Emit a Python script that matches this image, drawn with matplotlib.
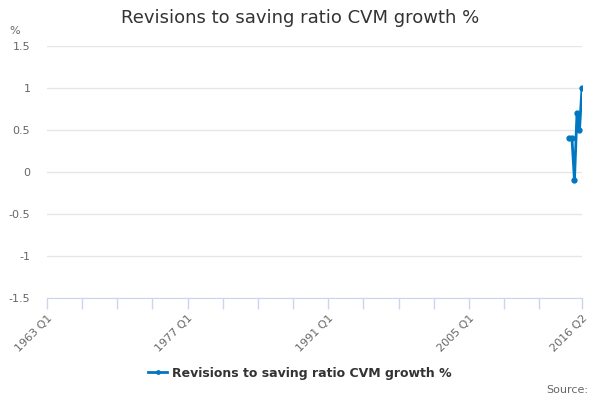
import matplotlib
matplotlib.use('Agg')
import matplotlib.pyplot as plt
import numpy as np

# quarterly categories 1963 Q1 .. 2016 Q2
quarters = ['%d Q%d' % (y, q) for y in range(1963, 2017) for q in range(1, 5)]
quarters = quarters[:quarters.index('2016 Q2') + 1]

data_quarters = ['2015 Q1', '2015 Q2', '2015 Q3', '2015 Q4', '2016 Q1', '2016 Q2']
data_values = [0.4, 0.4, -0.1, 0.7, 0.5, 1.0]

label_quarters = ['1963 Q1', '1977 Q1', '1991 Q1', '2005 Q1', '2016 Q2']
y_ticks = [-1.5, -1, -0.5, 0, 0.5, 1, 1.5]

line_color = '#0077c0'
text_grey = '#666666'

fig = plt.figure(figsize=(6, 4), dpi=100)
ax = fig.add_axes([47 / 600, 1 - 298 / 400, (582 - 47) / 600, (298 - 46) / 400])

xs = [quarters.index(q) for q in data_quarters]
ax.plot(xs, data_values, color=line_color, lw=2, marker='o', ms=3.5,
        label='Revisions to saving ratio CVM growth %')

ax.set_xlim(0, len(quarters) - 1)
ax.set_ylim(-1.5, 1.5)
ax.set_yticks(y_ticks)
ax.set_yticklabels(['-1.5', '-1', '-0.5', '0', '0.5', '1', '1.5'])
ax.yaxis.grid(True, color='#e6e6e6', lw=1)
ax.set_axisbelow(True)

tick_pos = list(range(0, len(quarters) - 14, 14)) + [len(quarters) - 1]
ax.set_xticks(tick_pos)
ax.set_xticklabels([q if q in label_quarters else '' for q in
                    [quarters[i] for i in tick_pos]],
                   rotation=45, ha='right', rotation_mode='anchor')

for s in ['top', 'right', 'left']:
    ax.spines[s].set_visible(False)
ax.spines['bottom'].set_color('#ccd6eb')
ax.tick_params(axis='x', colors='#ccd6eb', length=8, width=1, labelcolor=text_grey,
               labelsize=8, pad=3)
ax.tick_params(axis='y', length=0, labelcolor=text_grey, labelsize=8, pad=12)

fig.text(0.5, 1 - 18 / 400, 'Revisions to saving ratio CVM growth %', ha='center',
         va='center', fontsize=13, color='#333333')
fig.text(15 / 600, 1 - 31 / 400, '%', ha='center', va='center', fontsize=8,
         color=text_grey)

leg = fig.legend(loc='center', bbox_to_anchor=(0.5, 1 - 373 / 400), frameon=False,
                 prop={'weight': 'bold', 'size': 9}, handlelength=1.5,
                 handletextpad=0.4, markerscale=0.7)
for t in leg.get_texts():
    t.set_color('#333333')

fig.text(588 / 600, 1 - 390 / 400, 'Source:', ha='right', va='center', fontsize=8,
         color=text_grey)

fig.savefig('out.png', dpi=100)
